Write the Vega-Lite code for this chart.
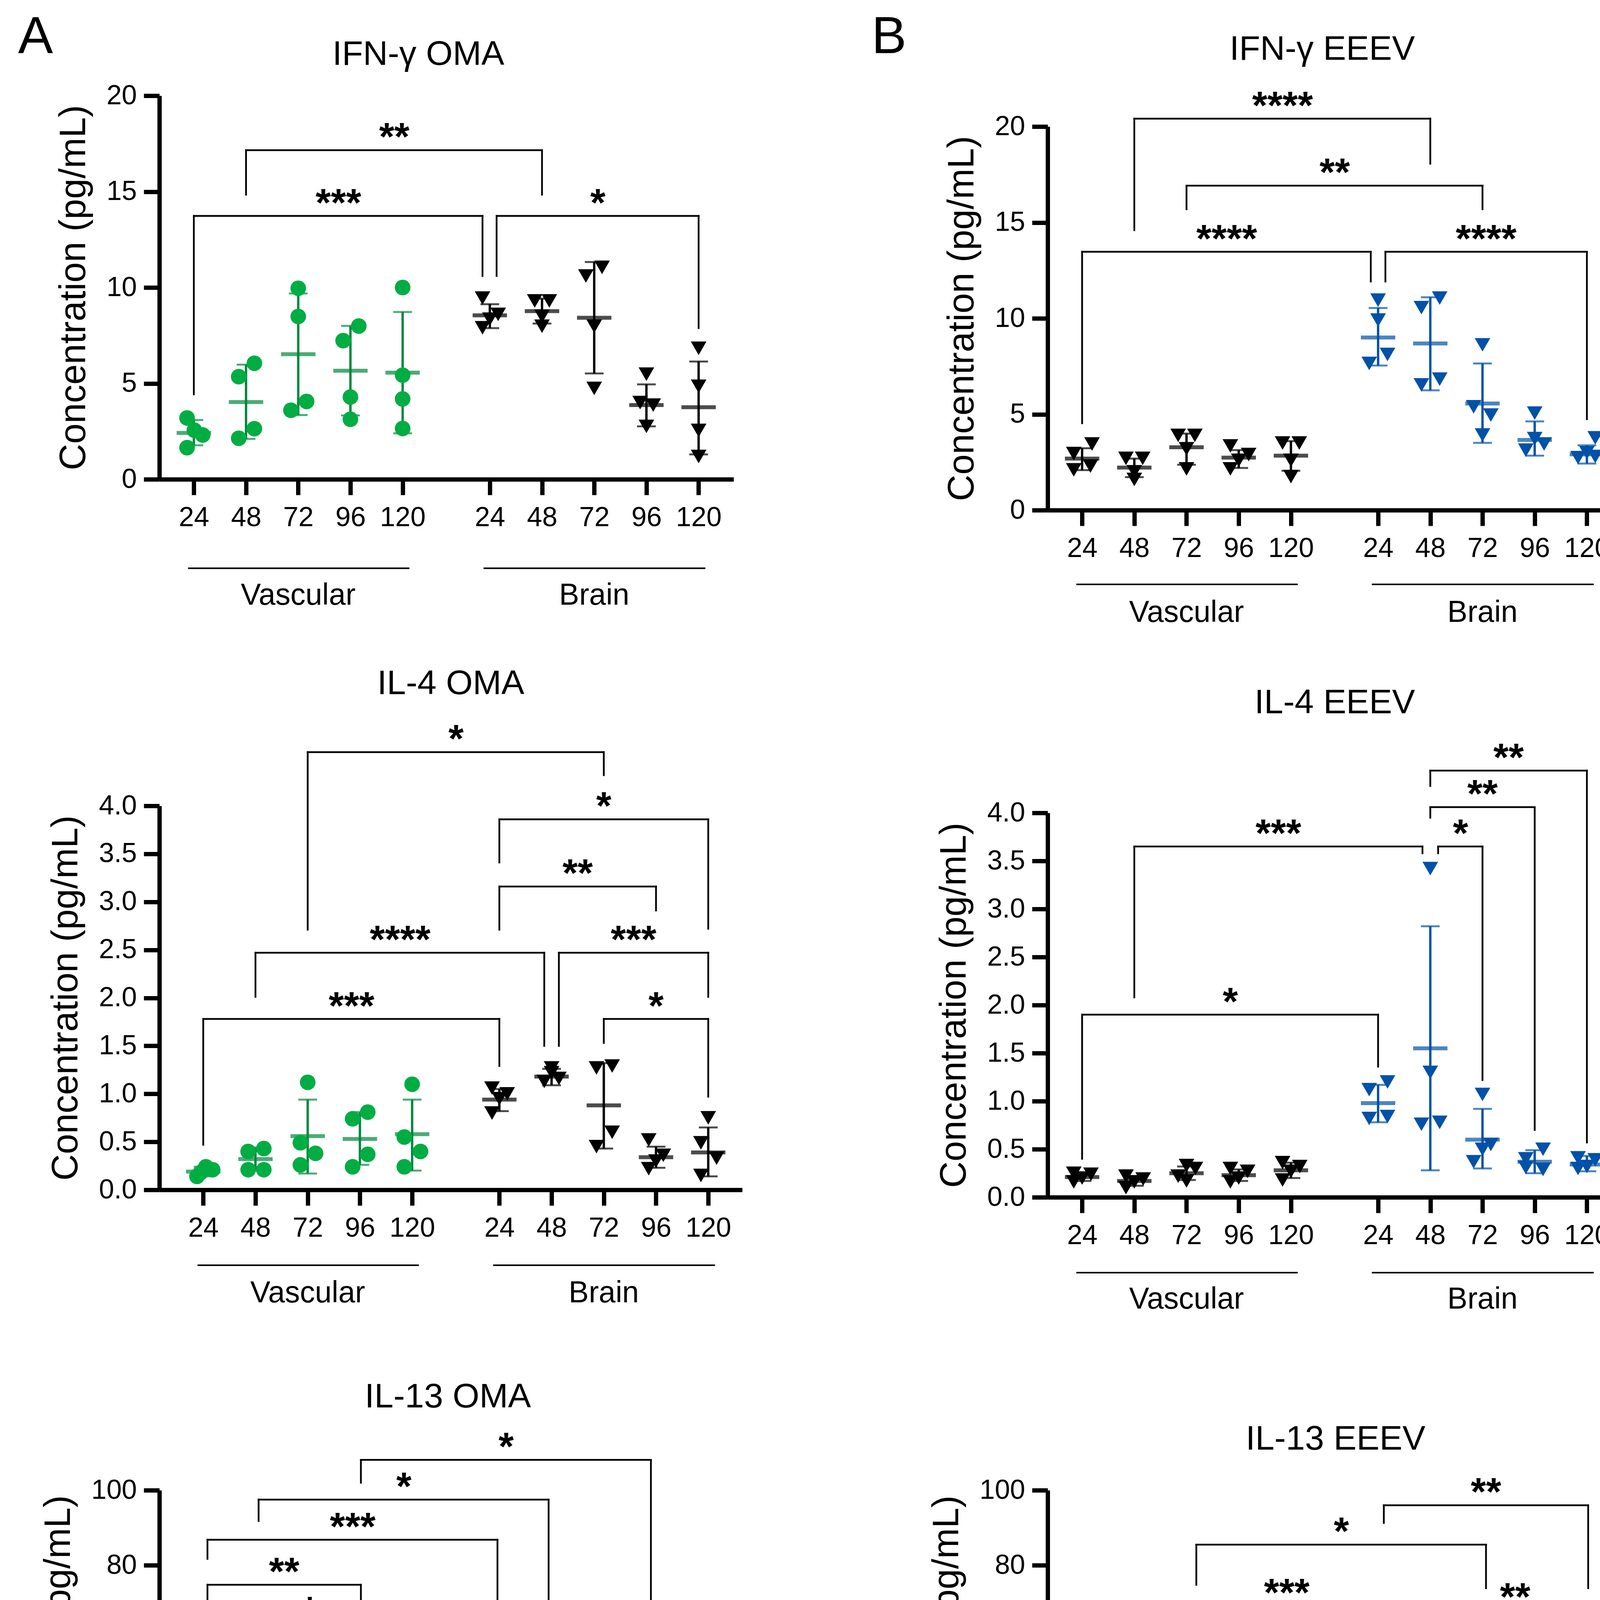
{
  "$schema": "https://vega.github.io/schema/vega-lite/v6.json",
  "background": "white",
  "padding": {"left": 46, "top": 29, "right": 30, "bottom": 10},
  "datasets": {
    "pts": [
      {"p":"A1","k":"OMA Vascular","x":0.87,"v":3.2},{"p":"A1","k":"OMA Vascular","x":1.01,"v":2.56},{"p":"A1","k":"OMA Vascular","x":1.17,"v":2.31},{"p":"A1","k":"OMA Vascular","x":0.87,"v":1.65},
      {"p":"A1","k":"OMA Vascular","x":1.86,"v":5.35},{"p":"A1","k":"OMA Vascular","x":2.16,"v":6.05},{"p":"A1","k":"OMA Vascular","x":2.16,"v":2.64},{"p":"A1","k":"OMA Vascular","x":1.86,"v":2.14},
      {"p":"A1","k":"OMA Vascular","x":3.0,"v":9.96},{"p":"A1","k":"OMA Vascular","x":3.0,"v":8.49},{"p":"A1","k":"OMA Vascular","x":3.16,"v":4.06},{"p":"A1","k":"OMA Vascular","x":2.86,"v":3.6},
      {"p":"A1","k":"OMA Vascular","x":4.16,"v":7.99},{"p":"A1","k":"OMA Vascular","x":3.86,"v":7.23},{"p":"A1","k":"OMA Vascular","x":4.0,"v":4.29},{"p":"A1","k":"OMA Vascular","x":4.0,"v":3.13},
      {"p":"A1","k":"OMA Vascular","x":5.0,"v":10.0},{"p":"A1","k":"OMA Vascular","x":5.0,"v":5.43},{"p":"A1","k":"OMA Vascular","x":5.0,"v":4.19},{"p":"A1","k":"OMA Vascular","x":5.0,"v":2.65},
      {"p":"A1","k":"OMA Brain","x":6.53,"v":9.45},{"p":"A1","k":"OMA Brain","x":6.83,"v":8.6},{"p":"A1","k":"OMA Brain","x":6.67,"v":8.35},{"p":"A1","k":"OMA Brain","x":6.53,"v":7.9},
      {"p":"A1","k":"OMA Brain","x":7.53,"v":9.3},{"p":"A1","k":"OMA Brain","x":7.81,"v":9.3},{"p":"A1","k":"OMA Brain","x":7.67,"v":8.5},{"p":"A1","k":"OMA Brain","x":7.67,"v":7.98},
      {"p":"A1","k":"OMA Brain","x":8.51,"v":10.6},{"p":"A1","k":"OMA Brain","x":8.82,"v":11.05},{"p":"A1","k":"OMA Brain","x":8.67,"v":7.98},{"p":"A1","k":"OMA Brain","x":8.67,"v":4.74},
      {"p":"A1","k":"OMA Brain","x":9.67,"v":5.48},{"p":"A1","k":"OMA Brain","x":9.55,"v":4.0},{"p":"A1","k":"OMA Brain","x":9.8,"v":3.87},{"p":"A1","k":"OMA Brain","x":9.67,"v":2.76},
      {"p":"A1","k":"OMA Brain","x":10.67,"v":6.83},{"p":"A1","k":"OMA Brain","x":10.67,"v":4.85},{"p":"A1","k":"OMA Brain","x":10.67,"v":2.55},{"p":"A1","k":"OMA Brain","x":10.67,"v":1.19},

      {"p":"B1","k":"EEEV Vascular","x":0.84,"v":2.95},{"p":"B1","k":"EEEV Vascular","x":1.19,"v":3.45},{"p":"B1","k":"EEEV Vascular","x":1.16,"v":2.3},{"p":"B1","k":"EEEV Vascular","x":0.84,"v":2.1},
      {"p":"B1","k":"EEEV Vascular","x":1.84,"v":2.7},{"p":"B1","k":"EEEV Vascular","x":2.16,"v":2.7},{"p":"B1","k":"EEEV Vascular","x":2.0,"v":2.0},{"p":"B1","k":"EEEV Vascular","x":2.0,"v":1.6},
      {"p":"B1","k":"EEEV Vascular","x":2.84,"v":3.9},{"p":"B1","k":"EEEV Vascular","x":3.16,"v":3.9},{"p":"B1","k":"EEEV Vascular","x":3.0,"v":3.2},{"p":"B1","k":"EEEV Vascular","x":3.0,"v":2.15},
      {"p":"B1","k":"EEEV Vascular","x":3.84,"v":3.35},{"p":"B1","k":"EEEV Vascular","x":4.19,"v":2.9},{"p":"B1","k":"EEEV Vascular","x":4.0,"v":2.6},{"p":"B1","k":"EEEV Vascular","x":3.84,"v":2.15},
      {"p":"B1","k":"EEEV Vascular","x":4.84,"v":3.5},{"p":"B1","k":"EEEV Vascular","x":5.16,"v":3.5},{"p":"B1","k":"EEEV Vascular","x":5.0,"v":2.6},{"p":"B1","k":"EEEV Vascular","x":5.0,"v":1.75},
      {"p":"B1","k":"EEEV Brain","x":6.67,"v":10.95},{"p":"B1","k":"EEEV Brain","x":6.67,"v":9.91},{"p":"B1","k":"EEEV Brain","x":6.85,"v":8.12},{"p":"B1","k":"EEEV Brain","x":6.5,"v":7.65},
      {"p":"B1","k":"EEEV Brain","x":7.5,"v":10.56},{"p":"B1","k":"EEEV Brain","x":7.85,"v":11.06},{"p":"B1","k":"EEEV Brain","x":7.5,"v":6.53},{"p":"B1","k":"EEEV Brain","x":7.85,"v":6.83},
      {"p":"B1","k":"EEEV Brain","x":8.67,"v":8.62},{"p":"B1","k":"EEEV Brain","x":8.5,"v":5.39},{"p":"B1","k":"EEEV Brain","x":8.83,"v":4.96},{"p":"B1","k":"EEEV Brain","x":8.67,"v":3.92},
      {"p":"B1","k":"EEEV Brain","x":9.67,"v":5.06},{"p":"B1","k":"EEEV Brain","x":9.67,"v":3.73},{"p":"B1","k":"EEEV Brain","x":9.85,"v":3.45},{"p":"B1","k":"EEEV Brain","x":9.5,"v":3.13},
      {"p":"B1","k":"EEEV Brain","x":10.83,"v":3.77},{"p":"B1","k":"EEEV Brain","x":10.5,"v":2.74},{"p":"B1","k":"EEEV Brain","x":10.83,"v":2.8},{"p":"B1","k":"EEEV Brain","x":10.67,"v":3.0},

      {"p":"A2","k":"OMA Vascular","x":0.88,"v":0.14},{"p":"A2","k":"OMA Vascular","x":1.05,"v":0.24},{"p":"A2","k":"OMA Vascular","x":1.18,"v":0.21},{"p":"A2","k":"OMA Vascular","x":0.95,"v":0.18},
      {"p":"A2","k":"OMA Vascular","x":1.86,"v":0.4},{"p":"A2","k":"OMA Vascular","x":2.16,"v":0.43},{"p":"A2","k":"OMA Vascular","x":1.86,"v":0.21},{"p":"A2","k":"OMA Vascular","x":2.16,"v":0.21},
      {"p":"A2","k":"OMA Vascular","x":3.0,"v":1.12},{"p":"A2","k":"OMA Vascular","x":2.86,"v":0.49},{"p":"A2","k":"OMA Vascular","x":3.15,"v":0.38},{"p":"A2","k":"OMA Vascular","x":2.86,"v":0.26},
      {"p":"A2","k":"OMA Vascular","x":3.86,"v":0.74},{"p":"A2","k":"OMA Vascular","x":4.15,"v":0.81},{"p":"A2","k":"OMA Vascular","x":4.15,"v":0.37},{"p":"A2","k":"OMA Vascular","x":3.86,"v":0.24},
      {"p":"A2","k":"OMA Vascular","x":5.0,"v":1.1},{"p":"A2","k":"OMA Vascular","x":4.85,"v":0.55},{"p":"A2","k":"OMA Vascular","x":5.16,"v":0.4},{"p":"A2","k":"OMA Vascular","x":4.85,"v":0.24},
      {"p":"A2","k":"OMA Brain","x":6.53,"v":1.06},{"p":"A2","k":"OMA Brain","x":6.82,"v":1.0},{"p":"A2","k":"OMA Brain","x":6.67,"v":0.95},{"p":"A2","k":"OMA Brain","x":6.53,"v":0.8},
      {"p":"A2","k":"OMA Brain","x":7.67,"v":1.27},{"p":"A2","k":"OMA Brain","x":7.53,"v":1.13},{"p":"A2","k":"OMA Brain","x":7.81,"v":1.16},{"p":"A2","k":"OMA Brain","x":7.67,"v":1.22},
      {"p":"A2","k":"OMA Brain","x":8.53,"v":1.27},{"p":"A2","k":"OMA Brain","x":8.83,"v":1.29},{"p":"A2","k":"OMA Brain","x":8.83,"v":0.6},{"p":"A2","k":"OMA Brain","x":8.53,"v":0.45},
      {"p":"A2","k":"OMA Brain","x":9.53,"v":0.52},{"p":"A2","k":"OMA Brain","x":9.81,"v":0.36},{"p":"A2","k":"OMA Brain","x":9.67,"v":0.3},{"p":"A2","k":"OMA Brain","x":9.53,"v":0.22},
      {"p":"A2","k":"OMA Brain","x":10.67,"v":0.75},{"p":"A2","k":"OMA Brain","x":10.53,"v":0.49},{"p":"A2","k":"OMA Brain","x":10.83,"v":0.33},{"p":"A2","k":"OMA Brain","x":10.53,"v":0.15},

      {"p":"B2","k":"EEEV Vascular","x":0.84,"v":0.25},{"p":"B2","k":"EEEV Vascular","x":1.17,"v":0.24},{"p":"B2","k":"EEEV Vascular","x":1.0,"v":0.2},{"p":"B2","k":"EEEV Vascular","x":0.84,"v":0.16},
      {"p":"B2","k":"EEEV Vascular","x":1.84,"v":0.22},{"p":"B2","k":"EEEV Vascular","x":2.17,"v":0.19},{"p":"B2","k":"EEEV Vascular","x":2.0,"v":0.16},{"p":"B2","k":"EEEV Vascular","x":1.84,"v":0.1},
      {"p":"B2","k":"EEEV Vascular","x":3.0,"v":0.33},{"p":"B2","k":"EEEV Vascular","x":3.17,"v":0.3},{"p":"B2","k":"EEEV Vascular","x":2.84,"v":0.22},{"p":"B2","k":"EEEV Vascular","x":3.0,"v":0.17},
      {"p":"B2","k":"EEEV Vascular","x":3.84,"v":0.3},{"p":"B2","k":"EEEV Vascular","x":4.17,"v":0.27},{"p":"B2","k":"EEEV Vascular","x":4.0,"v":0.2},{"p":"B2","k":"EEEV Vascular","x":3.84,"v":0.16},
      {"p":"B2","k":"EEEV Vascular","x":4.84,"v":0.36},{"p":"B2","k":"EEEV Vascular","x":5.17,"v":0.32},{"p":"B2","k":"EEEV Vascular","x":5.0,"v":0.27},{"p":"B2","k":"EEEV Vascular","x":4.84,"v":0.18},
      {"p":"B2","k":"EEEV Brain","x":6.5,"v":1.12},{"p":"B2","k":"EEEV Brain","x":6.85,"v":1.2},{"p":"B2","k":"EEEV Brain","x":6.5,"v":0.82},{"p":"B2","k":"EEEV Brain","x":6.85,"v":0.84},
      {"p":"B2","k":"EEEV Brain","x":7.67,"v":3.42},{"p":"B2","k":"EEEV Brain","x":7.67,"v":1.3},{"p":"B2","k":"EEEV Brain","x":7.5,"v":0.76},{"p":"B2","k":"EEEV Brain","x":7.85,"v":0.78},
      {"p":"B2","k":"EEEV Brain","x":8.67,"v":1.07},{"p":"B2","k":"EEEV Brain","x":8.83,"v":0.55},{"p":"B2","k":"EEEV Brain","x":8.67,"v":0.5},{"p":"B2","k":"EEEV Brain","x":8.5,"v":0.37},
      {"p":"B2","k":"EEEV Brain","x":9.83,"v":0.5},{"p":"B2","k":"EEEV Brain","x":9.5,"v":0.4},{"p":"B2","k":"EEEV Brain","x":9.5,"v":0.31},{"p":"B2","k":"EEEV Brain","x":9.83,"v":0.29},
      {"p":"B2","k":"EEEV Brain","x":10.5,"v":0.41},{"p":"B2","k":"EEEV Brain","x":10.83,"v":0.39},{"p":"B2","k":"EEEV Brain","x":10.67,"v":0.32},{"p":"B2","k":"EEEV Brain","x":10.5,"v":0.3},

      {"p":"A3","k":"OMA Vascular","x":0.87,"v":17.7},{"p":"A3","k":"OMA Vascular","x":1.17,"v":19.4},{"p":"A3","k":"OMA Vascular","x":1.15,"v":13.4},{"p":"A3","k":"OMA Vascular","x":0.87,"v":11.0},
      {"p":"A3","k":"OMA Vascular","x":2.15,"v":36.5},{"p":"A3","k":"OMA Vascular","x":1.85,"v":32.3},{"p":"A3","k":"OMA Vascular","x":2.15,"v":29.1},{"p":"A3","k":"OMA Vascular","x":2.0,"v":24.1},
      {"p":"A3","k":"OMA Vascular","x":3.0,"v":40.4},{"p":"A3","k":"OMA Vascular","x":2.85,"v":28.3},{"p":"A3","k":"OMA Vascular","x":3.15,"v":27.5},{"p":"A3","k":"OMA Vascular","x":3.0,"v":18.6},
      {"p":"A3","k":"OMA Vascular","x":4.0,"v":59.4},{"p":"A3","k":"OMA Vascular","x":4.0,"v":50.2},{"p":"A3","k":"OMA Vascular","x":4.0,"v":26.1},{"p":"A3","k":"OMA Vascular","x":4.0,"v":19.4},
      {"p":"A3","k":"OMA Vascular","x":5.0,"v":47.1},{"p":"A3","k":"OMA Vascular","x":5.0,"v":39.0},{"p":"A3","k":"OMA Vascular","x":5.15,"v":28.0},{"p":"A3","k":"OMA Vascular","x":4.85,"v":25.0},
      {"p":"A3","k":"OMA Brain","x":6.82,"v":42.3},{"p":"A3","k":"OMA Brain","x":6.67,"v":40.1},{"p":"A3","k":"OMA Brain","x":6.82,"v":36.2},{"p":"A3","k":"OMA Brain","x":6.52,"v":34.8},
      {"p":"A3","k":"OMA Brain","x":7.52,"v":44.6},{"p":"A3","k":"OMA Brain","x":7.82,"v":44.8},{"p":"A3","k":"OMA Brain","x":7.67,"v":42.9},{"p":"A3","k":"OMA Brain","x":7.67,"v":41.8},
      {"p":"A3","k":"OMA Brain","x":8.5,"v":43.4},{"p":"A3","k":"OMA Brain","x":8.82,"v":44.6},{"p":"A3","k":"OMA Brain","x":8.5,"v":26.7},{"p":"A3","k":"OMA Brain","x":8.82,"v":26.9},
      {"p":"A3","k":"OMA Brain","x":9.67,"v":35.8},{"p":"A3","k":"OMA Brain","x":9.52,"v":31.1},{"p":"A3","k":"OMA Brain","x":9.82,"v":27.0},{"p":"A3","k":"OMA Brain","x":9.67,"v":17.7},
      {"p":"A3","k":"OMA Brain","x":10.67,"v":38.7},{"p":"A3","k":"OMA Brain","x":10.67,"v":31.7},{"p":"A3","k":"OMA Brain","x":10.67,"v":19.0},{"p":"A3","k":"OMA Brain","x":10.67,"v":9.3},

      {"p":"B3","k":"EEEV Vascular","x":0.84,"v":21.9},{"p":"B3","k":"EEEV Vascular","x":1.18,"v":23.3},{"p":"B3","k":"EEEV Vascular","x":1.18,"v":18.0},{"p":"B3","k":"EEEV Vascular","x":1.0,"v":13.5},
      {"p":"B3","k":"EEEV Vascular","x":2.0,"v":30.3},{"p":"B3","k":"EEEV Vascular","x":2.0,"v":25.8},{"p":"B3","k":"EEEV Vascular","x":2.17,"v":21.0},{"p":"B3","k":"EEEV Vascular","x":1.83,"v":18.0},
      {"p":"B3","k":"EEEV Vascular","x":2.83,"v":25.8},{"p":"B3","k":"EEEV Vascular","x":3.18,"v":23.6},{"p":"B3","k":"EEEV Vascular","x":3.0,"v":21.5},{"p":"B3","k":"EEEV Vascular","x":3.0,"v":17.4},
      {"p":"B3","k":"EEEV Vascular","x":4.17,"v":32.0},{"p":"B3","k":"EEEV Vascular","x":3.83,"v":30.1},{"p":"B3","k":"EEEV Vascular","x":4.0,"v":22.5},{"p":"B3","k":"EEEV Vascular","x":4.0,"v":16.9},
      {"p":"B3","k":"EEEV Vascular","x":4.83,"v":22.5},{"p":"B3","k":"EEEV Vascular","x":5.17,"v":23.8},{"p":"B3","k":"EEEV Vascular","x":5.0,"v":18.0},{"p":"B3","k":"EEEV Vascular","x":4.83,"v":16.3},
      {"p":"B3","k":"EEEV Brain","x":6.67,"v":50.4},{"p":"B3","k":"EEEV Brain","x":6.67,"v":44.0},{"p":"B3","k":"EEEV Brain","x":6.84,"v":37.9},{"p":"B3","k":"EEEV Brain","x":6.5,"v":35.7},
      {"p":"B3","k":"EEEV Brain","x":7.67,"v":50.7},{"p":"B3","k":"EEEV Brain","x":7.67,"v":46.0},{"p":"B3","k":"EEEV Brain","x":7.84,"v":35.3},{"p":"B3","k":"EEEV Brain","x":7.5,"v":34.6},
      {"p":"B3","k":"EEEV Brain","x":8.67,"v":49.6},{"p":"B3","k":"EEEV Brain","x":8.84,"v":28.6},{"p":"B3","k":"EEEV Brain","x":8.5,"v":30.0},{"p":"B3","k":"EEEV Brain","x":8.5,"v":24.9},
      {"p":"B3","k":"EEEV Brain","x":9.67,"v":35.3},{"p":"B3","k":"EEEV Brain","x":9.51,"v":28.6},{"p":"B3","k":"EEEV Brain","x":9.84,"v":28.1},{"p":"B3","k":"EEEV Brain","x":9.67,"v":21.4},
      {"p":"B3","k":"EEEV Brain","x":10.67,"v":32.0},{"p":"B3","k":"EEEV Brain","x":10.67,"v":23.0},{"p":"B3","k":"EEEV Brain","x":10.5,"v":19.7},{"p":"B3","k":"EEEV Brain","x":10.84,"v":19.7}
    ],
    "sum": [
      {"p":"A1","k":"OMA Vascular","g":1,"m":2.42,"lo":1.77,"hi":3.09},{"p":"A1","k":"OMA Vascular","g":2,"m":4.03,"lo":2.11,"hi":5.98},{"p":"A1","k":"OMA Vascular","g":3,"m":6.52,"lo":3.35,"hi":9.69},{"p":"A1","k":"OMA Vascular","g":4,"m":5.66,"lo":3.33,"hi":8.0},{"p":"A1","k":"OMA Vascular","g":5,"m":5.56,"lo":2.4,"hi":8.72},
      {"p":"A1","k":"OMA Brain","g":6.67,"m":8.55,"lo":7.88,"hi":9.13},{"p":"A1","k":"OMA Brain","g":7.67,"m":8.77,"lo":8.12,"hi":9.42},{"p":"A1","k":"OMA Brain","g":8.67,"m":8.42,"lo":5.52,"hi":11.33},{"p":"A1","k":"OMA Brain","g":9.67,"m":3.87,"lo":2.76,"hi":4.95},{"p":"A1","k":"OMA Brain","g":10.67,"m":3.76,"lo":1.3,"hi":6.14},
      {"p":"B1","k":"EEEV Vascular","g":1,"m":2.69,"lo":2.09,"hi":3.23},{"p":"B1","k":"EEEV Vascular","g":2,"m":2.22,"lo":1.72,"hi":2.69},{"p":"B1","k":"EEEV Vascular","g":3,"m":3.28,"lo":2.37,"hi":3.99},{"p":"B1","k":"EEEV Vascular","g":4,"m":2.74,"lo":2.2,"hi":3.13},{"p":"B1","k":"EEEV Vascular","g":5,"m":2.84,"lo":2.05,"hi":3.6},
      {"p":"B1","k":"EEEV Brain","g":6.67,"m":9.0,"lo":7.54,"hi":10.54},{"p":"B1","k":"EEEV Brain","g":7.67,"m":8.69,"lo":6.25,"hi":11.1},{"p":"B1","k":"EEEV Brain","g":8.67,"m":5.56,"lo":3.51,"hi":7.65},{"p":"B1","k":"EEEV Brain","g":9.67,"m":3.66,"lo":2.84,"hi":4.63},{"p":"B1","k":"EEEV Brain","g":10.67,"m":2.91,"lo":2.43,"hi":3.38},
      {"p":"A2","k":"OMA Vascular","g":1,"m":0.19,"lo":0.14,"hi":0.24},{"p":"A2","k":"OMA Vascular","g":2,"m":0.32,"lo":0.2,"hi":0.44},{"p":"A2","k":"OMA Vascular","g":3,"m":0.56,"lo":0.17,"hi":0.94},{"p":"A2","k":"OMA Vascular","g":4,"m":0.53,"lo":0.26,"hi":0.81},{"p":"A2","k":"OMA Vascular","g":5,"m":0.58,"lo":0.2,"hi":0.94},
      {"p":"A2","k":"OMA Brain","g":6.67,"m":0.94,"lo":0.82,"hi":1.05},{"p":"A2","k":"OMA Brain","g":7.67,"m":1.18,"lo":1.09,"hi":1.26},{"p":"A2","k":"OMA Brain","g":8.67,"m":0.88,"lo":0.43,"hi":1.32},{"p":"A2","k":"OMA Brain","g":9.67,"m":0.34,"lo":0.23,"hi":0.45},{"p":"A2","k":"OMA Brain","g":10.67,"m":0.39,"lo":0.14,"hi":0.65},
      {"p":"B2","k":"EEEV Vascular","g":1,"m":0.21,"lo":0.17,"hi":0.25},{"p":"B2","k":"EEEV Vascular","g":2,"m":0.17,"lo":0.12,"hi":0.22},{"p":"B2","k":"EEEV Vascular","g":3,"m":0.25,"lo":0.18,"hi":0.32},{"p":"B2","k":"EEEV Vascular","g":4,"m":0.23,"lo":0.17,"hi":0.29},{"p":"B2","k":"EEEV Vascular","g":5,"m":0.28,"lo":0.2,"hi":0.36},
      {"p":"B2","k":"EEEV Brain","g":6.67,"m":0.98,"lo":0.78,"hi":1.17},{"p":"B2","k":"EEEV Brain","g":7.67,"m":1.55,"lo":0.28,"hi":2.82},{"p":"B2","k":"EEEV Brain","g":8.67,"m":0.6,"lo":0.3,"hi":0.92},{"p":"B2","k":"EEEV Brain","g":9.67,"m":0.37,"lo":0.25,"hi":0.49},{"p":"B2","k":"EEEV Brain","g":10.67,"m":0.34,"lo":0.27,"hi":0.43},
      {"p":"A3","k":"OMA Vascular","g":1,"m":15.45,"lo":11.5,"hi":19.0},{"p":"A3","k":"OMA Vascular","g":2,"m":30.6,"lo":25.3,"hi":35.8},{"p":"A3","k":"OMA Vascular","g":3,"m":28.9,"lo":19.9,"hi":37.6},{"p":"A3","k":"OMA Vascular","g":4,"m":38.7,"lo":19.9,"hi":57.8},{"p":"A3","k":"OMA Vascular","g":5,"m":34.8,"lo":24.6,"hi":45.0},
      {"p":"A3","k":"OMA Brain","g":6.67,"m":37.6,"lo":34.5,"hi":40.6},{"p":"A3","k":"OMA Brain","g":7.67,"m":43.4,"lo":42.7,"hi":44.0},{"p":"A3","k":"OMA Brain","g":8.67,"m":34.7,"lo":24.7,"hi":44.6},{"p":"A3","k":"OMA Brain","g":9.67,"m":27.8,"lo":19.9,"hi":35.6},{"p":"A3","k":"OMA Brain","g":10.67,"m":24.4,"lo":11.3,"hi":37.5},
      {"p":"B3","k":"EEEV Vascular","g":1,"m":18.9,"lo":14.9,"hi":23.0},{"p":"B3","k":"EEEV Vascular","g":2,"m":23.0,"lo":17.4,"hi":28.6},{"p":"B3","k":"EEEV Vascular","g":3,"m":21.9,"lo":18.6,"hi":25.3},{"p":"B3","k":"EEEV Vascular","g":4,"m":25.1,"lo":18.0,"hi":32.0},{"p":"B3","k":"EEEV Vascular","g":5,"m":20.0,"lo":16.6,"hi":23.4},
      {"p":"B3","k":"EEEV Brain","g":6.67,"m":41.7,"lo":35.0,"hi":48.4},{"p":"B3","k":"EEEV Brain","g":7.67,"m":41.4,"lo":33.3,"hi":49.3},{"p":"B3","k":"EEEV Brain","g":8.67,"m":33.1,"lo":22.1,"hi":44.1},{"p":"B3","k":"EEEV Brain","g":9.67,"m":28.3,"lo":22.5,"hi":33.7},{"p":"B3","k":"EEEV Brain","g":10.67,"m":23.3,"lo":17.4,"hi":28.6}
    ],
    "br": [
      {"p":"A1","x1":1,"x2":6.53,"xm":3.77,"h":13.73,"l1":4.43,"l2":10.6,"s":"***"},
      {"p":"A1","x1":2,"x2":7.67,"xm":4.84,"h":17.16,"l1":14.84,"l2":14.84,"s":"**"},
      {"p":"A1","x1":6.8,"x2":10.67,"xm":8.74,"h":13.73,"l1":10.6,"l2":7.88,"s":"*"},
      {"p":"B1","x1":1,"x2":6.53,"xm":3.77,"h":13.47,"l1":4.53,"l2":11.92,"s":"****"},
      {"p":"B1","x1":2,"x2":7.67,"xm":4.84,"h":20.41,"l1":14.6,"l2":18.06,"s":"****"},
      {"p":"B1","x1":3,"x2":8.67,"xm":5.84,"h":16.92,"l1":15.69,"l2":15.69,"s":"**"},
      {"p":"B1","x1":6.81,"x2":10.67,"xm":8.74,"h":13.47,"l1":11.92,"l2":4.74,"s":"****"},
      {"p":"A2","x1":1,"x2":6.67,"xm":3.84,"h":1.78,"l1":0.47,"l2":1.29,"s":"***"},
      {"p":"A2","x1":2,"x2":7.53,"xm":4.77,"h":2.47,"l1":2.01,"l2":1.5,"s":"****"},
      {"p":"A2","x1":7.81,"x2":10.67,"xm":9.24,"h":2.47,"l1":1.5,"l2":2.01,"s":"***"},
      {"p":"A2","x1":8.67,"x2":10.67,"xm":9.67,"h":1.78,"l1":1.53,"l2":0.97,"s":"*"},
      {"p":"A2","x1":6.67,"x2":9.67,"xm":8.17,"h":3.16,"l1":2.71,"l2":2.91,"s":"**"},
      {"p":"A2","x1":6.67,"x2":10.67,"xm":8.67,"h":3.86,"l1":3.41,"l2":2.72,"s":"*"},
      {"p":"A2","x1":3,"x2":8.67,"xm":5.84,"h":4.56,"l1":2.71,"l2":4.32,"s":"*"},
      {"p":"B2","x1":1,"x2":6.67,"xm":3.84,"h":1.9,"l1":0.4,"l2":1.36,"s":"*"},
      {"p":"B2","x1":2,"x2":7.52,"xm":4.76,"h":3.65,"l1":2.08,"l2":3.58,"s":"***"},
      {"p":"B2","x1":7.82,"x2":8.67,"xm":8.25,"h":3.65,"l1":3.58,"l2":1.22,"s":"*"},
      {"p":"B2","x1":7.67,"x2":9.67,"xm":8.67,"h":4.06,"l1":3.95,"l2":0.7,"s":"**"},
      {"p":"B2","x1":7.67,"x2":10.67,"xm":9.17,"h":4.44,"l1":4.28,"l2":0.57,"s":"**"},
      {"p":"A3","x1":1,"x2":5,"xm":3,"h":64.4,"l1":53.5,"l2":56.3,"s":"*"},
      {"p":"A3","x1":1,"x2":4,"xm":2.5,"h":74.8,"l1":70.1,"l2":70.1,"s":"**"},
      {"p":"A3","x1":1,"x2":6.67,"xm":3.84,"h":86.8,"l1":81.7,"l2":50.7,"s":"***"},
      {"p":"A3","x1":2,"x2":7.67,"xm":4.84,"h":97.5,"l1":91.8,"l2":68.6,"s":"*"},
      {"p":"A3","x1":4,"x2":9.67,"xm":6.84,"h":108.1,"l1":102,"l2":69.4,"s":"*"},
      {"p":"A3","x1":7.67,"x2":10.67,"xm":9.17,"h":59.7,"l1":50.4,"l2":44,"s":"*"},
      {"p":"B3","x1":1,"x2":6.67,"xm":3.84,"h":57.9,"l1":32,"l2":54.9,"s":"***"},
      {"p":"B3","x1":2,"x2":7.54,"xm":4.77,"h":69.2,"l1":62.5,"l2":56.6,"s":"***"},
      {"p":"B3","x1":7.81,"x2":10.67,"xm":9.24,"h":68.1,"l1":62.5,"l2":37.6,"s":"**"},
      {"p":"B3","x1":3,"x2":8.67,"xm":5.84,"h":85.5,"l1":74.8,"l2":73.9,"s":"*"},
      {"p":"B3","x1":6.67,"x2":10.67,"xm":8.67,"h":96,"l1":91.3,"l2":73.9,"s":"**"}
    ],
    "grp": [
      {"p":"A1","t":"Vascular","x1":0.89,"x2":5.13,"xm":3,"yl":-4.64,"yt":-6.54},{"p":"A1","t":"Brain","x1":6.55,"x2":10.8,"xm":8.67,"yl":-4.64,"yt":-6.54},
      {"p":"B1","t":"Vascular","x1":0.89,"x2":5.13,"xm":3,"yl":-3.87,"yt":-5.82},{"p":"B1","t":"Brain","x1":6.55,"x2":10.8,"xm":8.67,"yl":-3.87,"yt":-5.82},
      {"p":"A2","t":"Vascular","x1":0.89,"x2":5.13,"xm":3,"yl":-0.785,"yt":-1.17},{"p":"A2","t":"Brain","x1":6.55,"x2":10.8,"xm":8.67,"yl":-0.785,"yt":-1.17},
      {"p":"B2","t":"Vascular","x1":0.89,"x2":5.13,"xm":3,"yl":-0.785,"yt":-1.16},{"p":"B2","t":"Brain","x1":6.55,"x2":10.8,"xm":8.67,"yl":-0.785,"yt":-1.16},
      {"p":"A3","t":"Vascular","x1":0.89,"x2":5.13,"xm":3,"yl":-19.3,"yt":-28.75},{"p":"A3","t":"Brain","x1":6.55,"x2":10.8,"xm":8.67,"yl":-19.3,"yt":-28.75},
      {"p":"B3","t":"Vascular","x1":0.89,"x2":5.13,"xm":3,"yl":-18.9,"yt":-28.4},{"p":"B3","t":"Brain","x1":6.55,"x2":10.8,"xm":8.67,"yl":-18.9,"yt":-28.4}
    ]
  },
  "config": {
    "font": "Liberation Sans",
    "view": {"stroke": null},
    "axis": {"grid": false, "domainColor": "#000000", "domainWidth": 11, "tickColor": "#000000", "tickWidth": 11, "tickSize": 40, "labelFont": "Liberation Sans", "labelFontSize": 70, "labelColor": "#000000", "titleFont": "Liberation Sans", "titleFontSize": 94, "titleFontWeight": "normal", "titleColor": "#000000"},
    "axisX": {"labelPadding": 24, "labelAngle": 0},
    "axisY": {"labelPadding": 18, "titlePadding": 35},
    "title": {"font": "Liberation Sans", "fontSize": 88, "fontWeight": "normal", "color": "#000000", "offset": 40, "frame": "group"},
    "text": {"font": "Liberation Sans", "color": "#000000"}
  },
  "columns": 2,
  "align": "none",
  "spacing": 331,
  "concat": [
    {
      "title": {"text": "A", "anchor": "start", "frame": "bounds", "fontSize": 134, "offset": -83, "dx": -57},
      "columns": 1, "align": "none", "spacing": 14,
      "concat": [
        {"width": 1, "height": 1, "data": {"values": []}, "mark": "point"},
        {
          "columns": 1, "align": "none", "spacing": 143,
          "concat": [
            {
              "title": {"text": "IFN-γ OMA", "dx": -72, "offset": 26},
              "width": 1470, "height": 982,
              "layer": [
                {"data": {"name": "sum"}, "transform": [{"filter": "datum.p == 'A1'"}], "mark": {"type": "rule", "strokeWidth": 6},
                 "encoding": {"x": {"field": "g", "type": "quantitative", "scale": {"domain": [0.34, 11.34], "nice": false, "zero": false}, "axis": {"values": [1,2,3,4,5,6.67,7.67,8.67,9.67,10.67], "labelExpr": "datum.value < 6 ? ['24','48','72','96','120'][round(datum.value) - 1] : ['24','48','72','96','120'][round(datum.value - 6.67)]", "title": null}},
                  "y": {"field": "lo", "type": "quantitative", "scale": {"domain": [0, 20], "nice": false}, "axis": {"values": [0,5,10,15,20], "title": "Concentration (pg/mL)"}},
                  "y2": {"field": "hi"},
                  "color": {"field": "k", "type": "nominal", "scale": {"domain": ["OMA Vascular","OMA Brain","EEEV Vascular","EEEV Brain"], "range": ["#00873C","#000000","#000000","#0051A8"]}, "legend": null}}},
                {"data": {"name": "sum"}, "transform": [{"filter": "datum.p == 'A1'"}], "mark": {"type": "tick", "orient": "horizontal", "size": 48, "thickness": 5},
                 "encoding": {"x": {"field": "g", "type": "quantitative", "scale": {"domain": [0.34, 11.34], "nice": false, "zero": false}},
                  "y": {"field": "lo", "type": "quantitative", "scale": {"domain": [0, 20], "nice": false}},
                  "color": {"field": "k", "type": "nominal", "scale": {"domain": ["OMA Vascular","OMA Brain","EEEV Vascular","EEEV Brain"], "range": ["#00873C","#000000","#000000","#0051A8"]}, "legend": null}}},
                {"data": {"name": "sum"}, "transform": [{"filter": "datum.p == 'A1'"}], "mark": {"type": "tick", "orient": "horizontal", "size": 48, "thickness": 5},
                 "encoding": {"x": {"field": "g", "type": "quantitative", "scale": {"domain": [0.34, 11.34], "nice": false, "zero": false}},
                  "y": {"field": "hi", "type": "quantitative", "scale": {"domain": [0, 20], "nice": false}},
                  "color": {"field": "k", "type": "nominal", "scale": {"domain": ["OMA Vascular","OMA Brain","EEEV Vascular","EEEV Brain"], "range": ["#00873C","#000000","#000000","#0051A8"]}, "legend": null}}},
                {"data": {"name": "sum"}, "transform": [{"filter": "datum.p == 'A1'"}], "mark": {"type": "tick", "orient": "horizontal", "size": 88, "thickness": 10},
                 "encoding": {"x": {"field": "g", "type": "quantitative", "scale": {"domain": [0.34, 11.34], "nice": false, "zero": false}},
                  "y": {"field": "m", "type": "quantitative", "scale": {"domain": [0, 20], "nice": false}},
                  "color": {"field": "k", "type": "nominal", "scale": {"domain": ["OMA Vascular","OMA Brain","EEEV Vascular","EEEV Brain"], "range": ["#00873C","#000000","#000000","#0051A8"]}, "legend": null}}},
                {"data": {"name": "pts"}, "transform": [{"filter": "datum.p == 'A1'"}], "mark": {"type": "point", "filled": true, "opacity": 1, "size": 1600, "strokeWidth": 0},
                 "encoding": {"x": {"field": "x", "type": "quantitative", "scale": {"domain": [0.34, 11.34], "nice": false, "zero": false}},
                  "y": {"field": "v", "type": "quantitative", "scale": {"domain": [0, 20], "nice": false}},
                  "fill": {"field": "k", "type": "nominal", "scale": {"domain": ["OMA Vascular","OMA Brain","EEEV Vascular","EEEV Brain"], "range": ["#00AD43","#000000","#000000","#0051A8"]}, "legend": null},
                  "shape": {"field": "k", "type": "nominal", "scale": {"domain": ["OMA Vascular","OMA Brain","EEEV Vascular","EEEV Brain"], "range": ["circle","triangle-down","triangle-down","triangle-down"]}, "legend": null}}},
                {"data": {"name": "br"}, "transform": [{"filter": "datum.p == 'A1'"}], "mark": {"type": "rule", "strokeWidth": 4.5, "color": "#000000", "strokeCap": "square"},
                 "encoding": {"x": {"field": "x1", "type": "quantitative", "scale": {"domain": [0.34, 11.34], "nice": false, "zero": false}}, "x2": {"field": "x2"},
                  "y": {"field": "h", "type": "quantitative", "scale": {"domain": [0, 20], "nice": false}}}},
                {"data": {"name": "br"}, "transform": [{"filter": "datum.p == 'A1'"}], "mark": {"type": "rule", "strokeWidth": 4.5, "color": "#000000", "strokeCap": "square"},
                 "encoding": {"x": {"field": "x1", "type": "quantitative", "scale": {"domain": [0.34, 11.34], "nice": false, "zero": false}},
                  "y": {"field": "h", "type": "quantitative", "scale": {"domain": [0, 20], "nice": false}}, "y2": {"field": "l1"}}},
                {"data": {"name": "br"}, "transform": [{"filter": "datum.p == 'A1'"}], "mark": {"type": "rule", "strokeWidth": 4.5, "color": "#000000", "strokeCap": "square"},
                 "encoding": {"x": {"field": "x2", "type": "quantitative", "scale": {"domain": [0.34, 11.34], "nice": false, "zero": false}},
                  "y": {"field": "h", "type": "quantitative", "scale": {"domain": [0, 20], "nice": false}}, "y2": {"field": "l2"}}},
                {"data": {"name": "br"}, "transform": [{"filter": "datum.p == 'A1'"}], "mark": {"type": "text", "fontSize": 100, "fontWeight": "bold", "baseline": "alphabetic", "align": "center"},
                 "encoding": {"x": {"field": "xm", "type": "quantitative", "scale": {"domain": [0.34, 11.34], "nice": false, "zero": false}},
                  "y": {"field": "h", "type": "quantitative", "scale": {"domain": [0, 20], "nice": false}}, "text": {"field": "s"}}},
                {"data": {"name": "grp"}, "transform": [{"filter": "datum.p == 'A1'"}], "mark": {"type": "rule", "strokeWidth": 4, "color": "#000000"},
                 "encoding": {"x": {"field": "x1", "type": "quantitative", "scale": {"domain": [0.34, 11.34], "nice": false, "zero": false}}, "x2": {"field": "x2"},
                  "y": {"field": "yl", "type": "quantitative", "scale": {"domain": [0, 20], "nice": false}}}},
                {"data": {"name": "grp"}, "transform": [{"filter": "datum.p == 'A1'"}], "mark": {"type": "text", "fontSize": 77, "baseline": "alphabetic", "align": "center"},
                 "encoding": {"x": {"field": "xm", "type": "quantitative", "scale": {"domain": [0.34, 11.34], "nice": false, "zero": false}},
                  "y": {"field": "yt", "type": "quantitative", "scale": {"domain": [0, 20], "nice": false}}, "text": {"field": "t"}}}
              ]
            },
            {
              "columns": 1, "align": "none", "spacing": 184,
              "concat": [
                {
                  "title": {"text": "IL-4 OMA", "offset": 50},
                  "width": 1492, "height": 983,
                  "layer": [
                    {"data": {"name": "sum"}, "transform": [{"filter": "datum.p == 'A2'"}], "mark": {"type": "rule", "strokeWidth": 6},
                     "encoding": {"x": {"field": "g", "type": "quantitative", "scale": {"domain": [0.16, 11.32], "nice": false, "zero": false}, "axis": {"values": [1,2,3,4,5,6.67,7.67,8.67,9.67,10.67], "labelExpr": "datum.value < 6 ? ['24','48','72','96','120'][round(datum.value) - 1] : ['24','48','72','96','120'][round(datum.value - 6.67)]", "title": null}},
                      "y": {"field": "lo", "type": "quantitative", "scale": {"domain": [0, 4], "nice": false}, "axis": {"values": [0,0.5,1,1.5,2,2.5,3,3.5,4], "format": ".1f", "title": "Concentration (pg/mL)"}},
                      "y2": {"field": "hi"},
                      "color": {"field": "k", "type": "nominal", "scale": {"domain": ["OMA Vascular","OMA Brain","EEEV Vascular","EEEV Brain"], "range": ["#00873C","#000000","#000000","#0051A8"]}, "legend": null}}},
                    {"data": {"name": "sum"}, "transform": [{"filter": "datum.p == 'A2'"}], "mark": {"type": "tick", "orient": "horizontal", "size": 48, "thickness": 5},
                     "encoding": {"x": {"field": "g", "type": "quantitative", "scale": {"domain": [0.16, 11.32], "nice": false, "zero": false}},
                      "y": {"field": "lo", "type": "quantitative", "scale": {"domain": [0, 4], "nice": false}},
                      "color": {"field": "k", "type": "nominal", "scale": {"domain": ["OMA Vascular","OMA Brain","EEEV Vascular","EEEV Brain"], "range": ["#00873C","#000000","#000000","#0051A8"]}, "legend": null}}},
                    {"data": {"name": "sum"}, "transform": [{"filter": "datum.p == 'A2'"}], "mark": {"type": "tick", "orient": "horizontal", "size": 48, "thickness": 5},
                     "encoding": {"x": {"field": "g", "type": "quantitative", "scale": {"domain": [0.16, 11.32], "nice": false, "zero": false}},
                      "y": {"field": "hi", "type": "quantitative", "scale": {"domain": [0, 4], "nice": false}},
                      "color": {"field": "k", "type": "nominal", "scale": {"domain": ["OMA Vascular","OMA Brain","EEEV Vascular","EEEV Brain"], "range": ["#00873C","#000000","#000000","#0051A8"]}, "legend": null}}},
                    {"data": {"name": "sum"}, "transform": [{"filter": "datum.p == 'A2'"}], "mark": {"type": "tick", "orient": "horizontal", "size": 88, "thickness": 10},
                     "encoding": {"x": {"field": "g", "type": "quantitative", "scale": {"domain": [0.16, 11.32], "nice": false, "zero": false}},
                      "y": {"field": "m", "type": "quantitative", "scale": {"domain": [0, 4], "nice": false}},
                      "color": {"field": "k", "type": "nominal", "scale": {"domain": ["OMA Vascular","OMA Brain","EEEV Vascular","EEEV Brain"], "range": ["#00873C","#000000","#000000","#0051A8"]}, "legend": null}}},
                    {"data": {"name": "pts"}, "transform": [{"filter": "datum.p == 'A2'"}], "mark": {"type": "point", "filled": true, "opacity": 1, "size": 1600, "strokeWidth": 0},
                     "encoding": {"x": {"field": "x", "type": "quantitative", "scale": {"domain": [0.16, 11.32], "nice": false, "zero": false}},
                      "y": {"field": "v", "type": "quantitative", "scale": {"domain": [0, 4], "nice": false}},
                      "fill": {"field": "k", "type": "nominal", "scale": {"domain": ["OMA Vascular","OMA Brain","EEEV Vascular","EEEV Brain"], "range": ["#00AD43","#000000","#000000","#0051A8"]}, "legend": null},
                      "shape": {"field": "k", "type": "nominal", "scale": {"domain": ["OMA Vascular","OMA Brain","EEEV Vascular","EEEV Brain"], "range": ["circle","triangle-down","triangle-down","triangle-down"]}, "legend": null}}},
                    {"data": {"name": "br"}, "transform": [{"filter": "datum.p == 'A2'"}], "mark": {"type": "rule", "strokeWidth": 4.5, "color": "#000000", "strokeCap": "square"},
                     "encoding": {"x": {"field": "x1", "type": "quantitative", "scale": {"domain": [0.16, 11.32], "nice": false, "zero": false}}, "x2": {"field": "x2"},
                      "y": {"field": "h", "type": "quantitative", "scale": {"domain": [0, 4], "nice": false}}}},
                    {"data": {"name": "br"}, "transform": [{"filter": "datum.p == 'A2'"}], "mark": {"type": "rule", "strokeWidth": 4.5, "color": "#000000", "strokeCap": "square"},
                     "encoding": {"x": {"field": "x1", "type": "quantitative", "scale": {"domain": [0.16, 11.32], "nice": false, "zero": false}},
                      "y": {"field": "h", "type": "quantitative", "scale": {"domain": [0, 4], "nice": false}}, "y2": {"field": "l1"}}},
                    {"data": {"name": "br"}, "transform": [{"filter": "datum.p == 'A2'"}], "mark": {"type": "rule", "strokeWidth": 4.5, "color": "#000000", "strokeCap": "square"},
                     "encoding": {"x": {"field": "x2", "type": "quantitative", "scale": {"domain": [0.16, 11.32], "nice": false, "zero": false}},
                      "y": {"field": "h", "type": "quantitative", "scale": {"domain": [0, 4], "nice": false}}, "y2": {"field": "l2"}}},
                    {"data": {"name": "br"}, "transform": [{"filter": "datum.p == 'A2'"}], "mark": {"type": "text", "fontSize": 100, "fontWeight": "bold", "baseline": "alphabetic", "align": "center"},
                     "encoding": {"x": {"field": "xm", "type": "quantitative", "scale": {"domain": [0.16, 11.32], "nice": false, "zero": false}},
                      "y": {"field": "h", "type": "quantitative", "scale": {"domain": [0, 4], "nice": false}}, "text": {"field": "s"}}},
                    {"data": {"name": "grp"}, "transform": [{"filter": "datum.p == 'A2'"}], "mark": {"type": "rule", "strokeWidth": 4, "color": "#000000"},
                     "encoding": {"x": {"field": "x1", "type": "quantitative", "scale": {"domain": [0.16, 11.32], "nice": false, "zero": false}}, "x2": {"field": "x2"},
                      "y": {"field": "yl", "type": "quantitative", "scale": {"domain": [0, 4], "nice": false}}}},
                    {"data": {"name": "grp"}, "transform": [{"filter": "datum.p == 'A2'"}], "mark": {"type": "text", "fontSize": 77, "baseline": "alphabetic", "align": "center"},
                     "encoding": {"x": {"field": "xm", "type": "quantitative", "scale": {"domain": [0.16, 11.32], "nice": false, "zero": false}},
                      "y": {"field": "yt", "type": "quantitative", "scale": {"domain": [0, 4], "nice": false}}, "text": {"field": "t"}}}
                  ]
                },
                {
                  "title": {"text": "IL-13 OMA", "offset": 36},
                  "width": 1477, "height": 960,
                  "layer": [
                    {"data": {"name": "sum"}, "transform": [{"filter": "datum.p == 'A3'"}], "mark": {"type": "rule", "strokeWidth": 6},
                     "encoding": {"x": {"field": "g", "type": "quantitative", "scale": {"domain": [0.06, 11.34], "nice": false, "zero": false}, "axis": {"values": [1,2,3,4,5,6.67,7.67,8.67,9.67,10.67], "labelExpr": "datum.value < 6 ? ['24','48','72','96','120'][round(datum.value) - 1] : ['24','48','72','96','120'][round(datum.value - 6.67)]", "title": null}},
                      "y": {"field": "lo", "type": "quantitative", "scale": {"domain": [0, 100], "nice": false}, "axis": {"values": [0,20,40,60,80,100], "title": "Concentration (pg/mL)"}},
                      "y2": {"field": "hi"},
                      "color": {"field": "k", "type": "nominal", "scale": {"domain": ["OMA Vascular","OMA Brain","EEEV Vascular","EEEV Brain"], "range": ["#00873C","#000000","#000000","#0051A8"]}, "legend": null}}},
                    {"data": {"name": "sum"}, "transform": [{"filter": "datum.p == 'A3'"}], "mark": {"type": "tick", "orient": "horizontal", "size": 48, "thickness": 5},
                     "encoding": {"x": {"field": "g", "type": "quantitative", "scale": {"domain": [0.06, 11.34], "nice": false, "zero": false}},
                      "y": {"field": "lo", "type": "quantitative", "scale": {"domain": [0, 100], "nice": false}},
                      "color": {"field": "k", "type": "nominal", "scale": {"domain": ["OMA Vascular","OMA Brain","EEEV Vascular","EEEV Brain"], "range": ["#00873C","#000000","#000000","#0051A8"]}, "legend": null}}},
                    {"data": {"name": "sum"}, "transform": [{"filter": "datum.p == 'A3'"}], "mark": {"type": "tick", "orient": "horizontal", "size": 48, "thickness": 5},
                     "encoding": {"x": {"field": "g", "type": "quantitative", "scale": {"domain": [0.06, 11.34], "nice": false, "zero": false}},
                      "y": {"field": "hi", "type": "quantitative", "scale": {"domain": [0, 100], "nice": false}},
                      "color": {"field": "k", "type": "nominal", "scale": {"domain": ["OMA Vascular","OMA Brain","EEEV Vascular","EEEV Brain"], "range": ["#00873C","#000000","#000000","#0051A8"]}, "legend": null}}},
                    {"data": {"name": "sum"}, "transform": [{"filter": "datum.p == 'A3'"}], "mark": {"type": "tick", "orient": "horizontal", "size": 88, "thickness": 10},
                     "encoding": {"x": {"field": "g", "type": "quantitative", "scale": {"domain": [0.06, 11.34], "nice": false, "zero": false}},
                      "y": {"field": "m", "type": "quantitative", "scale": {"domain": [0, 100], "nice": false}},
                      "color": {"field": "k", "type": "nominal", "scale": {"domain": ["OMA Vascular","OMA Brain","EEEV Vascular","EEEV Brain"], "range": ["#00873C","#000000","#000000","#0051A8"]}, "legend": null}}},
                    {"data": {"name": "pts"}, "transform": [{"filter": "datum.p == 'A3'"}], "mark": {"type": "point", "filled": true, "opacity": 1, "size": 1600, "strokeWidth": 0},
                     "encoding": {"x": {"field": "x", "type": "quantitative", "scale": {"domain": [0.06, 11.34], "nice": false, "zero": false}},
                      "y": {"field": "v", "type": "quantitative", "scale": {"domain": [0, 100], "nice": false}},
                      "fill": {"field": "k", "type": "nominal", "scale": {"domain": ["OMA Vascular","OMA Brain","EEEV Vascular","EEEV Brain"], "range": ["#00AD43","#000000","#000000","#0051A8"]}, "legend": null},
                      "shape": {"field": "k", "type": "nominal", "scale": {"domain": ["OMA Vascular","OMA Brain","EEEV Vascular","EEEV Brain"], "range": ["circle","triangle-down","triangle-down","triangle-down"]}, "legend": null}}},
                    {"data": {"name": "br"}, "transform": [{"filter": "datum.p == 'A3'"}], "mark": {"type": "rule", "strokeWidth": 4.5, "color": "#000000", "strokeCap": "square"},
                     "encoding": {"x": {"field": "x1", "type": "quantitative", "scale": {"domain": [0.06, 11.34], "nice": false, "zero": false}}, "x2": {"field": "x2"},
                      "y": {"field": "h", "type": "quantitative", "scale": {"domain": [0, 100], "nice": false}}}},
                    {"data": {"name": "br"}, "transform": [{"filter": "datum.p == 'A3'"}], "mark": {"type": "rule", "strokeWidth": 4.5, "color": "#000000", "strokeCap": "square"},
                     "encoding": {"x": {"field": "x1", "type": "quantitative", "scale": {"domain": [0.06, 11.34], "nice": false, "zero": false}},
                      "y": {"field": "h", "type": "quantitative", "scale": {"domain": [0, 100], "nice": false}}, "y2": {"field": "l1"}}},
                    {"data": {"name": "br"}, "transform": [{"filter": "datum.p == 'A3'"}], "mark": {"type": "rule", "strokeWidth": 4.5, "color": "#000000", "strokeCap": "square"},
                     "encoding": {"x": {"field": "x2", "type": "quantitative", "scale": {"domain": [0.06, 11.34], "nice": false, "zero": false}},
                      "y": {"field": "h", "type": "quantitative", "scale": {"domain": [0, 100], "nice": false}}, "y2": {"field": "l2"}}},
                    {"data": {"name": "br"}, "transform": [{"filter": "datum.p == 'A3'"}], "mark": {"type": "text", "fontSize": 100, "fontWeight": "bold", "baseline": "alphabetic", "align": "center"},
                     "encoding": {"x": {"field": "xm", "type": "quantitative", "scale": {"domain": [0.06, 11.34], "nice": false, "zero": false}},
                      "y": {"field": "h", "type": "quantitative", "scale": {"domain": [0, 100], "nice": false}}, "text": {"field": "s"}}},
                    {"data": {"name": "grp"}, "transform": [{"filter": "datum.p == 'A3'"}], "mark": {"type": "rule", "strokeWidth": 4, "color": "#000000"},
                     "encoding": {"x": {"field": "x1", "type": "quantitative", "scale": {"domain": [0.06, 11.34], "nice": false, "zero": false}}, "x2": {"field": "x2"},
                      "y": {"field": "yl", "type": "quantitative", "scale": {"domain": [0, 100], "nice": false}}}},
                    {"data": {"name": "grp"}, "transform": [{"filter": "datum.p == 'A3'"}], "mark": {"type": "text", "fontSize": 77, "baseline": "alphabetic", "align": "center"},
                     "encoding": {"x": {"field": "xm", "type": "quantitative", "scale": {"domain": [0.06, 11.34], "nice": false, "zero": false}},
                      "y": {"field": "yt", "type": "quantitative", "scale": {"domain": [0, 100], "nice": false}}, "text": {"field": "t"}}}
                  ]
                }
              ]
            }
          ]
        }
      ]
    },
    {
      "title": {"text": "B", "anchor": "start", "frame": "bounds", "fontSize": 134, "offset": -83, "dx": -146},
      "columns": 1, "align": "none", "spacing": 0,
      "concat": [
        {"width": 1, "height": 1, "data": {"values": []}, "mark": "point"},
        {
          "columns": 1, "align": "none", "spacing": 148,
          "concat": [
            {
              "title": {"text": "IFN-γ EEEV", "dx": -32, "offset": 53},
              "width": 1470, "height": 982,
              "layer": [
                {"data": {"name": "sum"}, "transform": [{"filter": "datum.p == 'B1'"}], "mark": {"type": "rule", "strokeWidth": 6},
                 "encoding": {"x": {"field": "g", "type": "quantitative", "scale": {"domain": [0.34, 11.34], "nice": false, "zero": false}, "axis": {"values": [1,2,3,4,5,6.67,7.67,8.67,9.67,10.67], "labelExpr": "datum.value < 6 ? ['24','48','72','96','120'][round(datum.value) - 1] : ['24','48','72','96','120'][round(datum.value - 6.67)]", "title": null}},
                  "y": {"field": "lo", "type": "quantitative", "scale": {"domain": [0, 20], "nice": false}, "axis": {"values": [0,5,10,15,20], "title": "Concentration (pg/mL)"}},
                  "y2": {"field": "hi"},
                  "color": {"field": "k", "type": "nominal", "scale": {"domain": ["OMA Vascular","OMA Brain","EEEV Vascular","EEEV Brain"], "range": ["#00873C","#000000","#000000","#0051A8"]}, "legend": null}}},
                {"data": {"name": "sum"}, "transform": [{"filter": "datum.p == 'B1'"}], "mark": {"type": "tick", "orient": "horizontal", "size": 48, "thickness": 5},
                 "encoding": {"x": {"field": "g", "type": "quantitative", "scale": {"domain": [0.34, 11.34], "nice": false, "zero": false}},
                  "y": {"field": "lo", "type": "quantitative", "scale": {"domain": [0, 20], "nice": false}},
                  "color": {"field": "k", "type": "nominal", "scale": {"domain": ["OMA Vascular","OMA Brain","EEEV Vascular","EEEV Brain"], "range": ["#00873C","#000000","#000000","#0051A8"]}, "legend": null}}},
                {"data": {"name": "sum"}, "transform": [{"filter": "datum.p == 'B1'"}], "mark": {"type": "tick", "orient": "horizontal", "size": 48, "thickness": 5},
                 "encoding": {"x": {"field": "g", "type": "quantitative", "scale": {"domain": [0.34, 11.34], "nice": false, "zero": false}},
                  "y": {"field": "hi", "type": "quantitative", "scale": {"domain": [0, 20], "nice": false}},
                  "color": {"field": "k", "type": "nominal", "scale": {"domain": ["OMA Vascular","OMA Brain","EEEV Vascular","EEEV Brain"], "range": ["#00873C","#000000","#000000","#0051A8"]}, "legend": null}}},
                {"data": {"name": "sum"}, "transform": [{"filter": "datum.p == 'B1'"}], "mark": {"type": "tick", "orient": "horizontal", "size": 88, "thickness": 10},
                 "encoding": {"x": {"field": "g", "type": "quantitative", "scale": {"domain": [0.34, 11.34], "nice": false, "zero": false}},
                  "y": {"field": "m", "type": "quantitative", "scale": {"domain": [0, 20], "nice": false}},
                  "color": {"field": "k", "type": "nominal", "scale": {"domain": ["OMA Vascular","OMA Brain","EEEV Vascular","EEEV Brain"], "range": ["#00873C","#000000","#000000","#0051A8"]}, "legend": null}}},
                {"data": {"name": "pts"}, "transform": [{"filter": "datum.p == 'B1'"}], "mark": {"type": "point", "filled": true, "opacity": 1, "size": 1600, "strokeWidth": 0},
                 "encoding": {"x": {"field": "x", "type": "quantitative", "scale": {"domain": [0.34, 11.34], "nice": false, "zero": false}},
                  "y": {"field": "v", "type": "quantitative", "scale": {"domain": [0, 20], "nice": false}},
                  "fill": {"field": "k", "type": "nominal", "scale": {"domain": ["OMA Vascular","OMA Brain","EEEV Vascular","EEEV Brain"], "range": ["#00AD43","#000000","#000000","#0051A8"]}, "legend": null},
                  "shape": {"field": "k", "type": "nominal", "scale": {"domain": ["OMA Vascular","OMA Brain","EEEV Vascular","EEEV Brain"], "range": ["circle","triangle-down","triangle-down","triangle-down"]}, "legend": null}}},
                {"data": {"name": "br"}, "transform": [{"filter": "datum.p == 'B1'"}], "mark": {"type": "rule", "strokeWidth": 4.5, "color": "#000000", "strokeCap": "square"},
                 "encoding": {"x": {"field": "x1", "type": "quantitative", "scale": {"domain": [0.34, 11.34], "nice": false, "zero": false}}, "x2": {"field": "x2"},
                  "y": {"field": "h", "type": "quantitative", "scale": {"domain": [0, 20], "nice": false}}}},
                {"data": {"name": "br"}, "transform": [{"filter": "datum.p == 'B1'"}], "mark": {"type": "rule", "strokeWidth": 4.5, "color": "#000000", "strokeCap": "square"},
                 "encoding": {"x": {"field": "x1", "type": "quantitative", "scale": {"domain": [0.34, 11.34], "nice": false, "zero": false}},
                  "y": {"field": "h", "type": "quantitative", "scale": {"domain": [0, 20], "nice": false}}, "y2": {"field": "l1"}}},
                {"data": {"name": "br"}, "transform": [{"filter": "datum.p == 'B1'"}], "mark": {"type": "rule", "strokeWidth": 4.5, "color": "#000000", "strokeCap": "square"},
                 "encoding": {"x": {"field": "x2", "type": "quantitative", "scale": {"domain": [0.34, 11.34], "nice": false, "zero": false}},
                  "y": {"field": "h", "type": "quantitative", "scale": {"domain": [0, 20], "nice": false}}, "y2": {"field": "l2"}}},
                {"data": {"name": "br"}, "transform": [{"filter": "datum.p == 'B1'"}], "mark": {"type": "text", "fontSize": 100, "fontWeight": "bold", "baseline": "alphabetic", "align": "center"},
                 "encoding": {"x": {"field": "xm", "type": "quantitative", "scale": {"domain": [0.34, 11.34], "nice": false, "zero": false}},
                  "y": {"field": "h", "type": "quantitative", "scale": {"domain": [0, 20], "nice": false}}, "text": {"field": "s"}}},
                {"data": {"name": "grp"}, "transform": [{"filter": "datum.p == 'B1'"}], "mark": {"type": "rule", "strokeWidth": 4, "color": "#000000"},
                 "encoding": {"x": {"field": "x1", "type": "quantitative", "scale": {"domain": [0.34, 11.34], "nice": false, "zero": false}}, "x2": {"field": "x2"},
                  "y": {"field": "yl", "type": "quantitative", "scale": {"domain": [0, 20], "nice": false}}}},
                {"data": {"name": "grp"}, "transform": [{"filter": "datum.p == 'B1'"}], "mark": {"type": "text", "fontSize": 77, "baseline": "alphabetic", "align": "center"},
                 "encoding": {"x": {"field": "xm", "type": "quantitative", "scale": {"domain": [0.34, 11.34], "nice": false, "zero": false}},
                  "y": {"field": "yt", "type": "quantitative", "scale": {"domain": [0, 20], "nice": false}}, "text": {"field": "t"}}}
              ]
            },
            {
              "columns": 1, "align": "none", "spacing": 275,
              "concat": [
                {
                  "title": {"text": "IL-4 EEEV", "offset": 49},
                  "width": 1470, "height": 984,
                  "layer": [
                    {"data": {"name": "sum"}, "transform": [{"filter": "datum.p == 'B2'"}], "mark": {"type": "rule", "strokeWidth": 6},
                     "encoding": {"x": {"field": "g", "type": "quantitative", "scale": {"domain": [0.34, 11.34], "nice": false, "zero": false}, "axis": {"values": [1,2,3,4,5,6.67,7.67,8.67,9.67,10.67], "labelExpr": "datum.value < 6 ? ['24','48','72','96','120'][round(datum.value) - 1] : ['24','48','72','96','120'][round(datum.value - 6.67)]", "title": null}},
                      "y": {"field": "lo", "type": "quantitative", "scale": {"domain": [0, 4], "nice": false}, "axis": {"values": [0,0.5,1,1.5,2,2.5,3,3.5,4], "format": ".1f", "title": "Concentration (pg/mL)"}},
                      "y2": {"field": "hi"},
                      "color": {"field": "k", "type": "nominal", "scale": {"domain": ["OMA Vascular","OMA Brain","EEEV Vascular","EEEV Brain"], "range": ["#00873C","#000000","#000000","#0051A8"]}, "legend": null}}},
                    {"data": {"name": "sum"}, "transform": [{"filter": "datum.p == 'B2'"}], "mark": {"type": "tick", "orient": "horizontal", "size": 48, "thickness": 5},
                     "encoding": {"x": {"field": "g", "type": "quantitative", "scale": {"domain": [0.34, 11.34], "nice": false, "zero": false}},
                      "y": {"field": "lo", "type": "quantitative", "scale": {"domain": [0, 4], "nice": false}},
                      "color": {"field": "k", "type": "nominal", "scale": {"domain": ["OMA Vascular","OMA Brain","EEEV Vascular","EEEV Brain"], "range": ["#00873C","#000000","#000000","#0051A8"]}, "legend": null}}},
                    {"data": {"name": "sum"}, "transform": [{"filter": "datum.p == 'B2'"}], "mark": {"type": "tick", "orient": "horizontal", "size": 48, "thickness": 5},
                     "encoding": {"x": {"field": "g", "type": "quantitative", "scale": {"domain": [0.34, 11.34], "nice": false, "zero": false}},
                      "y": {"field": "hi", "type": "quantitative", "scale": {"domain": [0, 4], "nice": false}},
                      "color": {"field": "k", "type": "nominal", "scale": {"domain": ["OMA Vascular","OMA Brain","EEEV Vascular","EEEV Brain"], "range": ["#00873C","#000000","#000000","#0051A8"]}, "legend": null}}},
                    {"data": {"name": "sum"}, "transform": [{"filter": "datum.p == 'B2'"}], "mark": {"type": "tick", "orient": "horizontal", "size": 88, "thickness": 10},
                     "encoding": {"x": {"field": "g", "type": "quantitative", "scale": {"domain": [0.34, 11.34], "nice": false, "zero": false}},
                      "y": {"field": "m", "type": "quantitative", "scale": {"domain": [0, 4], "nice": false}},
                      "color": {"field": "k", "type": "nominal", "scale": {"domain": ["OMA Vascular","OMA Brain","EEEV Vascular","EEEV Brain"], "range": ["#00873C","#000000","#000000","#0051A8"]}, "legend": null}}},
                    {"data": {"name": "pts"}, "transform": [{"filter": "datum.p == 'B2'"}], "mark": {"type": "point", "filled": true, "opacity": 1, "size": 1600, "strokeWidth": 0},
                     "encoding": {"x": {"field": "x", "type": "quantitative", "scale": {"domain": [0.34, 11.34], "nice": false, "zero": false}},
                      "y": {"field": "v", "type": "quantitative", "scale": {"domain": [0, 4], "nice": false}},
                      "fill": {"field": "k", "type": "nominal", "scale": {"domain": ["OMA Vascular","OMA Brain","EEEV Vascular","EEEV Brain"], "range": ["#00AD43","#000000","#000000","#0051A8"]}, "legend": null},
                      "shape": {"field": "k", "type": "nominal", "scale": {"domain": ["OMA Vascular","OMA Brain","EEEV Vascular","EEEV Brain"], "range": ["circle","triangle-down","triangle-down","triangle-down"]}, "legend": null}}},
                    {"data": {"name": "br"}, "transform": [{"filter": "datum.p == 'B2'"}], "mark": {"type": "rule", "strokeWidth": 4.5, "color": "#000000", "strokeCap": "square"},
                     "encoding": {"x": {"field": "x1", "type": "quantitative", "scale": {"domain": [0.34, 11.34], "nice": false, "zero": false}}, "x2": {"field": "x2"},
                      "y": {"field": "h", "type": "quantitative", "scale": {"domain": [0, 4], "nice": false}}}},
                    {"data": {"name": "br"}, "transform": [{"filter": "datum.p == 'B2'"}], "mark": {"type": "rule", "strokeWidth": 4.5, "color": "#000000", "strokeCap": "square"},
                     "encoding": {"x": {"field": "x1", "type": "quantitative", "scale": {"domain": [0.34, 11.34], "nice": false, "zero": false}},
                      "y": {"field": "h", "type": "quantitative", "scale": {"domain": [0, 4], "nice": false}}, "y2": {"field": "l1"}}},
                    {"data": {"name": "br"}, "transform": [{"filter": "datum.p == 'B2'"}], "mark": {"type": "rule", "strokeWidth": 4.5, "color": "#000000", "strokeCap": "square"},
                     "encoding": {"x": {"field": "x2", "type": "quantitative", "scale": {"domain": [0.34, 11.34], "nice": false, "zero": false}},
                      "y": {"field": "h", "type": "quantitative", "scale": {"domain": [0, 4], "nice": false}}, "y2": {"field": "l2"}}},
                    {"data": {"name": "br"}, "transform": [{"filter": "datum.p == 'B2'"}], "mark": {"type": "text", "fontSize": 100, "fontWeight": "bold", "baseline": "alphabetic", "align": "center"},
                     "encoding": {"x": {"field": "xm", "type": "quantitative", "scale": {"domain": [0.34, 11.34], "nice": false, "zero": false}},
                      "y": {"field": "h", "type": "quantitative", "scale": {"domain": [0, 4], "nice": false}}, "text": {"field": "s"}}},
                    {"data": {"name": "grp"}, "transform": [{"filter": "datum.p == 'B2'"}], "mark": {"type": "rule", "strokeWidth": 4, "color": "#000000"},
                     "encoding": {"x": {"field": "x1", "type": "quantitative", "scale": {"domain": [0.34, 11.34], "nice": false, "zero": false}}, "x2": {"field": "x2"},
                      "y": {"field": "yl", "type": "quantitative", "scale": {"domain": [0, 4], "nice": false}}}},
                    {"data": {"name": "grp"}, "transform": [{"filter": "datum.p == 'B2'"}], "mark": {"type": "text", "fontSize": 77, "baseline": "alphabetic", "align": "center"},
                     "encoding": {"x": {"field": "xm", "type": "quantitative", "scale": {"domain": [0.34, 11.34], "nice": false, "zero": false}},
                      "y": {"field": "yt", "type": "quantitative", "scale": {"domain": [0, 4], "nice": false}}, "text": {"field": "t"}}}
                  ]
                },
                {
                  "title": {"text": "IL-13 EEEV", "offset": 44},
                  "width": 1474, "height": 961,
                  "layer": [
                    {"data": {"name": "sum"}, "transform": [{"filter": "datum.p == 'B3'"}], "mark": {"type": "rule", "strokeWidth": 6},
                     "encoding": {"x": {"field": "g", "type": "quantitative", "scale": {"domain": [0.09, 11.36], "nice": false, "zero": false}, "axis": {"values": [1,2,3,4,5,6.67,7.67,8.67,9.67,10.67], "labelExpr": "datum.value < 6 ? ['24','48','72','96','120'][round(datum.value) - 1] : ['24','48','72','96','120'][round(datum.value - 6.67)]", "title": null}},
                      "y": {"field": "lo", "type": "quantitative", "scale": {"domain": [0, 100], "nice": false}, "axis": {"values": [0,20,40,60,80,100], "title": "Concentration (pg/mL)"}},
                      "y2": {"field": "hi"},
                      "color": {"field": "k", "type": "nominal", "scale": {"domain": ["OMA Vascular","OMA Brain","EEEV Vascular","EEEV Brain"], "range": ["#00873C","#000000","#000000","#0051A8"]}, "legend": null}}},
                    {"data": {"name": "sum"}, "transform": [{"filter": "datum.p == 'B3'"}], "mark": {"type": "tick", "orient": "horizontal", "size": 48, "thickness": 5},
                     "encoding": {"x": {"field": "g", "type": "quantitative", "scale": {"domain": [0.09, 11.36], "nice": false, "zero": false}},
                      "y": {"field": "lo", "type": "quantitative", "scale": {"domain": [0, 100], "nice": false}},
                      "color": {"field": "k", "type": "nominal", "scale": {"domain": ["OMA Vascular","OMA Brain","EEEV Vascular","EEEV Brain"], "range": ["#00873C","#000000","#000000","#0051A8"]}, "legend": null}}},
                    {"data": {"name": "sum"}, "transform": [{"filter": "datum.p == 'B3'"}], "mark": {"type": "tick", "orient": "horizontal", "size": 48, "thickness": 5},
                     "encoding": {"x": {"field": "g", "type": "quantitative", "scale": {"domain": [0.09, 11.36], "nice": false, "zero": false}},
                      "y": {"field": "hi", "type": "quantitative", "scale": {"domain": [0, 100], "nice": false}},
                      "color": {"field": "k", "type": "nominal", "scale": {"domain": ["OMA Vascular","OMA Brain","EEEV Vascular","EEEV Brain"], "range": ["#00873C","#000000","#000000","#0051A8"]}, "legend": null}}},
                    {"data": {"name": "sum"}, "transform": [{"filter": "datum.p == 'B3'"}], "mark": {"type": "tick", "orient": "horizontal", "size": 88, "thickness": 10},
                     "encoding": {"x": {"field": "g", "type": "quantitative", "scale": {"domain": [0.09, 11.36], "nice": false, "zero": false}},
                      "y": {"field": "m", "type": "quantitative", "scale": {"domain": [0, 100], "nice": false}},
                      "color": {"field": "k", "type": "nominal", "scale": {"domain": ["OMA Vascular","OMA Brain","EEEV Vascular","EEEV Brain"], "range": ["#00873C","#000000","#000000","#0051A8"]}, "legend": null}}},
                    {"data": {"name": "pts"}, "transform": [{"filter": "datum.p == 'B3'"}], "mark": {"type": "point", "filled": true, "opacity": 1, "size": 1600, "strokeWidth": 0},
                     "encoding": {"x": {"field": "x", "type": "quantitative", "scale": {"domain": [0.09, 11.36], "nice": false, "zero": false}},
                      "y": {"field": "v", "type": "quantitative", "scale": {"domain": [0, 100], "nice": false}},
                      "fill": {"field": "k", "type": "nominal", "scale": {"domain": ["OMA Vascular","OMA Brain","EEEV Vascular","EEEV Brain"], "range": ["#00AD43","#000000","#000000","#0051A8"]}, "legend": null},
                      "shape": {"field": "k", "type": "nominal", "scale": {"domain": ["OMA Vascular","OMA Brain","EEEV Vascular","EEEV Brain"], "range": ["circle","triangle-down","triangle-down","triangle-down"]}, "legend": null}}},
                    {"data": {"name": "br"}, "transform": [{"filter": "datum.p == 'B3'"}], "mark": {"type": "rule", "strokeWidth": 4.5, "color": "#000000", "strokeCap": "square"},
                     "encoding": {"x": {"field": "x1", "type": "quantitative", "scale": {"domain": [0.09, 11.36], "nice": false, "zero": false}}, "x2": {"field": "x2"},
                      "y": {"field": "h", "type": "quantitative", "scale": {"domain": [0, 100], "nice": false}}}},
                    {"data": {"name": "br"}, "transform": [{"filter": "datum.p == 'B3'"}], "mark": {"type": "rule", "strokeWidth": 4.5, "color": "#000000", "strokeCap": "square"},
                     "encoding": {"x": {"field": "x1", "type": "quantitative", "scale": {"domain": [0.09, 11.36], "nice": false, "zero": false}},
                      "y": {"field": "h", "type": "quantitative", "scale": {"domain": [0, 100], "nice": false}}, "y2": {"field": "l1"}}},
                    {"data": {"name": "br"}, "transform": [{"filter": "datum.p == 'B3'"}], "mark": {"type": "rule", "strokeWidth": 4.5, "color": "#000000", "strokeCap": "square"},
                     "encoding": {"x": {"field": "x2", "type": "quantitative", "scale": {"domain": [0.09, 11.36], "nice": false, "zero": false}},
                      "y": {"field": "h", "type": "quantitative", "scale": {"domain": [0, 100], "nice": false}}, "y2": {"field": "l2"}}},
                    {"data": {"name": "br"}, "transform": [{"filter": "datum.p == 'B3'"}], "mark": {"type": "text", "fontSize": 100, "fontWeight": "bold", "baseline": "alphabetic", "align": "center"},
                     "encoding": {"x": {"field": "xm", "type": "quantitative", "scale": {"domain": [0.09, 11.36], "nice": false, "zero": false}},
                      "y": {"field": "h", "type": "quantitative", "scale": {"domain": [0, 100], "nice": false}}, "text": {"field": "s"}}},
                    {"data": {"name": "grp"}, "transform": [{"filter": "datum.p == 'B3'"}], "mark": {"type": "rule", "strokeWidth": 4, "color": "#000000"},
                     "encoding": {"x": {"field": "x1", "type": "quantitative", "scale": {"domain": [0.09, 11.36], "nice": false, "zero": false}}, "x2": {"field": "x2"},
                      "y": {"field": "yl", "type": "quantitative", "scale": {"domain": [0, 100], "nice": false}}}},
                    {"data": {"name": "grp"}, "transform": [{"filter": "datum.p == 'B3'"}], "mark": {"type": "text", "fontSize": 77, "baseline": "alphabetic", "align": "center"},
                     "encoding": {"x": {"field": "xm", "type": "quantitative", "scale": {"domain": [0.09, 11.36], "nice": false, "zero": false}},
                      "y": {"field": "yt", "type": "quantitative", "scale": {"domain": [0, 100], "nice": false}}, "text": {"field": "t"}}}
                  ]
                }
              ]
            }
          ]
        }
      ]
    }
  ]
}
